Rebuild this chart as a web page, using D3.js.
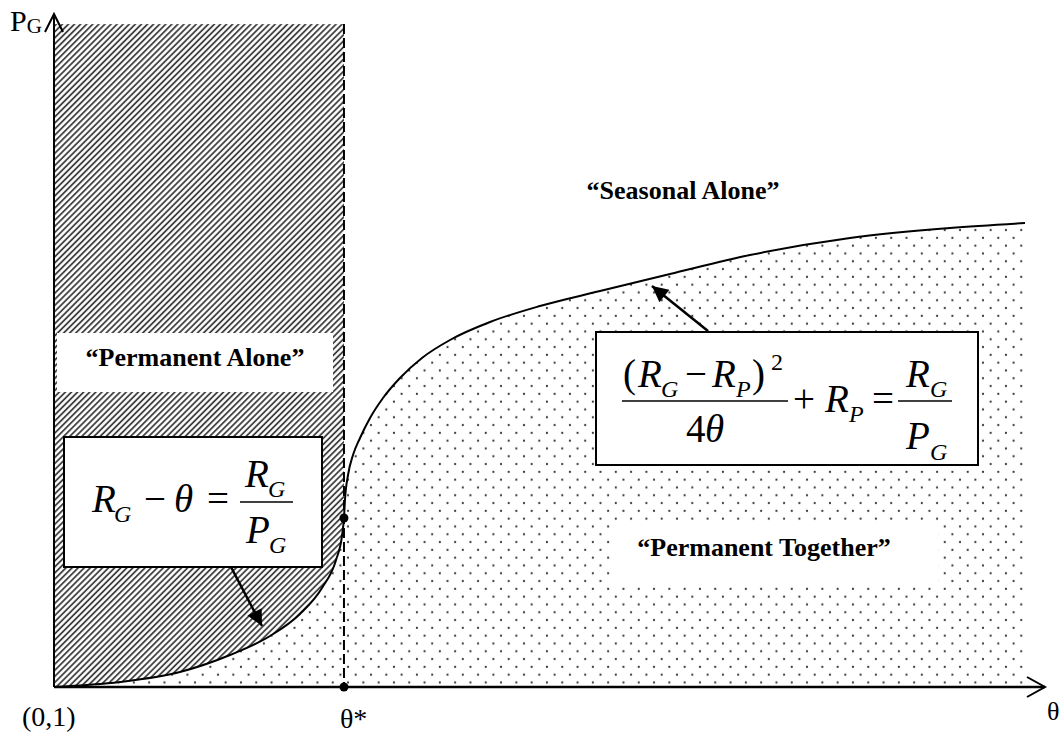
<!DOCTYPE html>
<html>
<head>
<meta charset="utf-8">
<script src="https://cdn.jsdelivr.net/npm/d3@7"></script>
<style>
  body { margin: 0; background: #fff; }
  text { font-family: "Liberation Serif", "Times New Roman", serif; fill: #000; }
</style>
</head>
<body>
<script>
// Datos del diagrama (unidades abstractas: theta en x, P_G en y)
const curveTheta = [0, 0.666, 1.271, 1.776, 2.180, 2.482, 2.704, 2.846, 2.906, 2.926, 2.936,
  2.967, 3.017, 3.088, 3.189, 3.320, 3.491, 3.713, 3.996, 4.400, 4.904, 5.510, 6.216, 7.023,
  8.032, 9.041, 9.798];
const curvePG = [0, 0.074, 0.223, 0.475, 0.758, 1.085, 1.471, 1.887, 2.244, 2.511, 2.779,
  3.150, 3.447, 3.700, 3.997, 4.294, 4.591, 4.889, 5.156, 5.423, 5.661, 5.884, 6.137, 6.419,
  6.672, 6.820, 6.894];
const thetaStar = 2.926;
const pgStar = 2.511;
const hatchTop = 9.85;
const axisMax = 10;

const regionLabels = ['\u201CPermanent Alone\u201D', '\u201CPermanent Together\u201D', '\u201CSeasonal Alone\u201D'];
const axisLabels = ['(0,1)', '\u03B8*', '\u03B8'];

// Flechas de anotacion (inicio y punta en unidades del diagrama)
const arrowFrom = [[1.786, 1.783], [6.599, 5.290]];
const arrowTo = [[2.099, 0.906], [6.034, 5.958]];

const width = 1062;
const height = 736;

const x = d3.scaleLinear().domain([0, axisMax]).range([54, 1045]);
const y = d3.scaleLinear().domain([0, axisMax]).range([687, 14]);

const svg = d3.select('body').append('svg')
  .attr('width', width)
  .attr('height', height);

const defs = svg.append('defs');

// rayado diagonal
const hatch = defs.append('pattern')
  .attr('id', 'hatch')
  .attr('patternUnits', 'userSpaceOnUse')
  .attr('width', 4.3)
  .attr('height', 4.3)
  .attr('patternTransform', 'rotate(45)');
hatch.append('rect').attr('width', 4.3).attr('height', 4.3).attr('fill', '#fff');
hatch.append('line')
  .attr('x1', 1).attr('y1', 0).attr('x2', 1).attr('y2', 4.3)
  .attr('stroke', '#333').attr('stroke-width', 1.7);

// punteado
const dots = defs.append('pattern')
  .attr('id', 'dots')
  .attr('patternUnits', 'userSpaceOnUse')
  .attr('width', 15.3)
  .attr('height', 15.6);
dots.append('rect').attr('width', 15.3).attr('height', 15.6).attr('fill', '#fff');
dots.append('circle').attr('cx', 3.8).attr('cy', 3.9).attr('r', 1.1).attr('fill', '#333');
dots.append('circle').attr('cx', 11.45).attr('cy', 11.7).attr('r', 1.1).attr('fill', '#333');

defs.append('marker')
  .attr('id', 'head')
  .attr('markerUnits', 'userSpaceOnUse')
  .attr('viewBox', '0 0 10 10')
  .attr('refX', 10).attr('refY', 5)
  .attr('markerWidth', 20).attr('markerHeight', 16)
  .attr('orient', 'auto')
  .append('path')
  .attr('d', 'M0,0 L10,5 L0,10 Z')
  .attr('fill', '#000');

const points = curveTheta.map((t, i) => [t, curvePG[i]]);

// zona rayada
svg.append('rect')
  .attr('x', x(0))
  .attr('y', y(hatchTop))
  .attr('width', x(thetaStar) - x(0))
  .attr('height', y(0) - y(hatchTop))
  .attr('fill', 'url(#hatch)');

// zona punteada bajo la curva
const area = d3.area()
  .x(d => x(d[0]))
  .y0(y(0))
  .y1(d => y(d[1]))
  .curve(d3.curveMonotoneX);

svg.append('path')
  .attr('d', area(points))
  .attr('fill', 'url(#dots)');

// etiquetas con fondo blanco
svg.append('rect').attr('x', 57).attr('y', 333).attr('width', 276).attr('height', 59).attr('fill', '#fff');
svg.append('rect').attr('x', 610).attr('y', 523).attr('width', 328).attr('height', 60).attr('fill', '#fff');

const labelFont = 26;
svg.append('text').attr('x', 195).attr('y', 366).attr('text-anchor', 'middle')
  .attr('font-weight', 'bold').attr('font-size', labelFont).text(regionLabels[0]);
svg.append('text').attr('x', 764).attr('y', 556).attr('text-anchor', 'middle')
  .attr('font-weight', 'bold').attr('font-size', labelFont).text(regionLabels[1]);
svg.append('text').attr('x', 683).attr('y', 199).attr('text-anchor', 'middle')
  .attr('font-weight', 'bold').attr('font-size', labelFont).text(regionLabels[2]);

// linea discontinua en theta*
svg.append('line')
  .attr('x1', x(thetaStar)).attr('x2', x(thetaStar))
  .attr('y1', y(hatchTop)).attr('y2', y(0))
  .attr('stroke', '#000').attr('stroke-width', 2)
  .attr('stroke-dasharray', '10,4');

// curva
const line = d3.line()
  .x(d => x(d[0]))
  .y(d => y(d[1]))
  .curve(d3.curveMonotoneX);

svg.append('path')
  .attr('d', line(points))
  .attr('fill', 'none')
  .attr('stroke', '#000')
  .attr('stroke-width', 2);

// ejes
svg.append('line')
  .attr('x1', x(0)).attr('y1', y(0)).attr('x2', x(0)).attr('y2', y(axisMax))
  .attr('stroke', '#000').attr('stroke-width', 2);
svg.append('line')
  .attr('x1', x(0)).attr('y1', y(0)).attr('x2', x(axisMax)).attr('y2', y(0))
  .attr('stroke', '#000').attr('stroke-width', 2.5);

svg.append('path')
  .attr('d', `M${x(0) - 9},${y(axisMax) + 18} L${x(0)},${y(axisMax)} L${x(0) + 9},${y(axisMax) + 18}`)
  .attr('fill', 'none').attr('stroke', '#000').attr('stroke-width', 2);
svg.append('path')
  .attr('d', `M${x(axisMax) - 18},${y(0) - 10} L${x(axisMax)},${y(0)} L${x(axisMax) - 18},${y(0) + 10}`)
  .attr('fill', 'none').attr('stroke', '#000').attr('stroke-width', 2);

// puntos en theta*
svg.selectAll('.star')
  .data([[thetaStar, 0], [thetaStar, pgStar]])
  .enter()
  .append('circle')
  .attr('class', 'star')
  .attr('cx', d => x(d[0]))
  .attr('cy', d => y(d[1]))
  .attr('r', 4.5)
  .attr('fill', '#000');

// textos de ejes
const pLabel = svg.append('text').attr('x', 10).attr('y', 31).attr('font-size', 30);
pLabel.append('tspan').text('P');
pLabel.append('tspan').attr('font-size', 21).attr('dy', 2).text('G');

svg.append('text').attr('x', 22).attr('y', 726).attr('font-size', 28).text(axisLabels[0]);
svg.append('text').attr('x', x(thetaStar) - 4).attr('y', 728).attr('font-size', 28).text(axisLabels[1]);
svg.append('text').attr('x', 1047).attr('y', 720).attr('font-size', 26).text(axisLabels[2]);

// cajas de ecuaciones
function piece(g, px, py, txt, size, italic) {
  g.append('text')
    .attr('x', px).attr('y', py)
    .attr('font-size', size)
    .attr('font-style', italic ? 'italic' : 'normal')
    .text(txt);
}

function bar(g, x1, x2, yy) {
  g.append('line').attr('x1', x1).attr('x2', x2).attr('y1', yy).attr('y2', yy)
    .attr('stroke', '#000').attr('stroke-width', 1.5);
}

const big = 39;
const small = 24;

const box1 = svg.append('g').attr('transform', 'translate(64,437)');
box1.append('rect').attr('width', 258).attr('height', 130)
  .attr('fill', '#fff').attr('stroke', '#000').attr('stroke-width', 2);
piece(box1, 28, 75, 'R', big, true);
piece(box1, 50, 85, 'G', small, true);
piece(box1, 80, 75, '\u2212', big, false);
piece(box1, 110, 75, '\u03B8', big, true);
piece(box1, 143, 75, '=', big, false);
piece(box1, 181, 50, 'R', big, true);
piece(box1, 204, 60, 'G', small, true);
bar(box1, 176, 229, 65);
piece(box1, 182, 106, 'P', big, true);
piece(box1, 205, 116, 'G', small, true);

const box2 = svg.append('g').attr('transform', 'translate(596,332)');
box2.append('rect').attr('width', 382).attr('height', 133)
  .attr('fill', '#fff').attr('stroke', '#000').attr('stroke-width', 2);
piece(box2, 27, 55, '(', big, false);
piece(box2, 42, 55, 'R', big, true);
piece(box2, 65, 65, 'G', small, true);
piece(box2, 89, 55, '\u2212', big, false);
piece(box2, 116, 55, 'R', big, true);
piece(box2, 140, 65, 'P', small, true);
piece(box2, 156, 55, ')', big, false);
piece(box2, 175, 38, '2', small, false);
bar(box2, 26, 192, 69);
piece(box2, 90, 110, '4', big, false);
piece(box2, 109, 110, '\u03B8', big, true);
piece(box2, 197, 80, '+', big, false);
piece(box2, 229, 80, 'R', big, true);
piece(box2, 253, 90, 'P', small, true);
piece(box2, 276, 80, '=', big, false);
piece(box2, 310, 55, 'R', big, true);
piece(box2, 334, 65, 'G', small, true);
bar(box2, 302, 356, 69);
piece(box2, 310, 117, 'P', big, true);
piece(box2, 334, 128, 'G', small, true);

// flechas de anotacion
svg.selectAll('.arrow')
  .data(arrowFrom)
  .enter()
  .append('line')
  .attr('class', 'arrow')
  .attr('x1', d => x(d[0]))
  .attr('y1', d => y(d[1]))
  .attr('x2', (d, i) => x(arrowTo[i][0]))
  .attr('y2', (d, i) => y(arrowTo[i][1]))
  .attr('stroke', '#000')
  .attr('stroke-width', 2.5)
  .attr('marker-end', 'url(#head)');
</script>
</body>
</html>
